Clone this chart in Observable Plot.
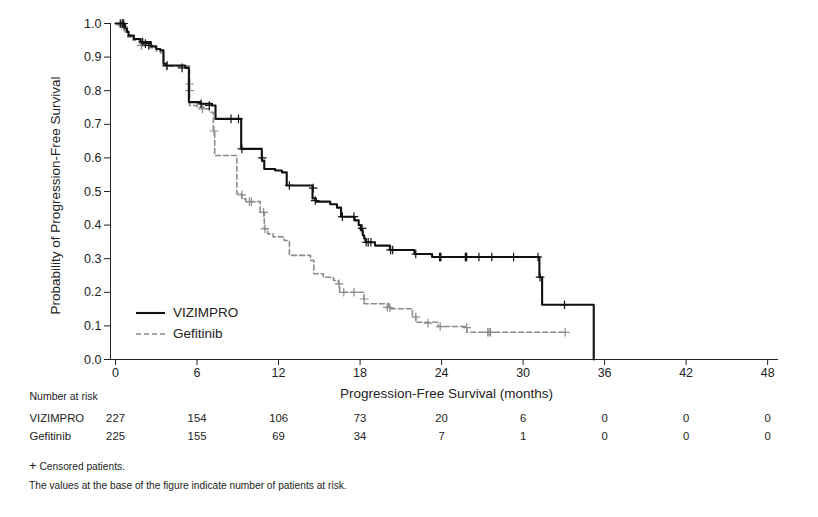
<!DOCTYPE html>
<html><head><meta charset="utf-8">
<script src="https://cdn.jsdelivr.net/npm/d3@7"></script>
<script src="https://cdn.jsdelivr.net/npm/@observablehq/plot@0.6"></script>
<style>
body{margin:0;background:#fff;font-family:"Liberation Sans",Arial,Helvetica,sans-serif;color:#222;}
#wrap{position:relative;width:818px;height:517px;overflow:hidden;}
#wrap svg{display:block;}
.legend{position:absolute;left:136px;top:302px;font-size:13.5px;color:#222;}
.legend .row{display:flex;align-items:center;height:21px;}
.legend svg{margin-right:8px;}
.foot{position:absolute;left:29px;font-size:10.2px;color:#222;}
</style></head><body><div id="wrap"></div>
<script>
// ---- data ----
const vizTime = [0, 0.7, 0.85, 0.96, 1.35, 1.85, 2.6, 3.0, 3.3, 3.53, 3.7, 5.13, 5.4, 6.26, 7.1, 7.36, 9.25, 10.77, 10.95, 11.75, 12.25, 12.6, 14.5, 14.75, 15.8, 16.3, 16.6, 17.6, 17.9, 18.05, 18.2, 18.3, 18.4, 19.1, 20.2, 22.0, 23.3, 31.2, 31.4, 35.2];
const vizSurv = [1, 0.985, 0.975, 0.964, 0.954, 0.945, 0.932, 0.924, 0.92, 0.88, 0.875, 0.868, 0.766, 0.761, 0.756, 0.716, 0.627, 0.592, 0.567, 0.5625, 0.557, 0.518, 0.479, 0.47, 0.462, 0.452, 0.425, 0.414, 0.40, 0.385, 0.37, 0.36, 0.349, 0.339, 0.326, 0.314, 0.305, 0.245, 0.163, 0];
const vizCensorTime = [0.35, 0.5, 0.6, 2.0, 2.2, 2.45, 3.8, 4.9, 6.3, 6.9, 8.5, 9.05, 9.3, 10.8, 12.8, 14.55, 14.7, 16.7, 17.55, 18.15, 18.45, 18.6, 18.8, 20.25, 20.4, 22.1, 23.85, 23.9, 23.95, 25.75, 25.8, 25.85, 26.75, 27.7, 29.3, 31.1, 31.25, 33.05];
const vizCensorSurv = [1, 1, 1, 0.945, 0.94, 0.935, 0.875, 0.868, 0.761, 0.756, 0.716, 0.716, 0.627, 0.6, 0.518, 0.51, 0.473, 0.425, 0.425, 0.39, 0.349, 0.349, 0.349, 0.326, 0.326, 0.314, 0.305, 0.305, 0.305, 0.305, 0.305, 0.305, 0.305, 0.305, 0.305, 0.305, 0.245, 0.163];

const gefTime = [0, 0.5, 0.7, 0.9, 1.3, 1.8, 2.5, 3.0, 3.3, 3.53, 5.45, 6.0, 6.5, 6.9, 7.2, 7.3, 8.93, 9.3, 9.6, 10.65, 10.95, 11.2, 11.6, 12.4, 12.8, 14.35, 14.6, 15.3, 16.05, 16.4, 16.5, 18.3, 20.1, 21.85, 22.1, 23.75, 25.85, 33.1];
const gefSurv = [1, 0.99, 0.975, 0.96, 0.95, 0.935, 0.928, 0.918, 0.912, 0.873, 0.756, 0.751, 0.746, 0.736, 0.68, 0.607, 0.493, 0.478, 0.470, 0.438, 0.389, 0.374, 0.365, 0.354, 0.31, 0.295, 0.255, 0.245, 0.235, 0.225, 0.2, 0.166, 0.151, 0.131, 0.111, 0.098, 0.081, 0.081];
const gefCensorTime = [0.45, 0.6, 1.9, 3.75, 5.45, 5.45, 6.4, 7.25, 9.3, 9.85, 10.0, 10.9, 11.0, 16.45, 16.8, 17.55, 18.3, 20.0, 20.2, 22.1, 23.0, 23.9, 25.85, 27.4, 27.5, 27.6, 33.1];
const gefCensorSurv = [0.995, 0.99, 0.935, 0.873, 0.82, 0.80, 0.746, 0.68, 0.49, 0.47, 0.47, 0.438, 0.389, 0.225, 0.2, 0.2, 0.18, 0.156, 0.154, 0.126, 0.108, 0.098, 0.095, 0.081, 0.081, 0.081, 0.081];

const riskMonths = [0, 6, 12, 18, 24, 30, 36, 42, 48];
const riskViz = [227, 154, 106, 73, 20, 6, 0, 0, 0];
const riskGef = [225, 155, 69, 34, 7, 1, 0, 0, 0];
const armNames = ["VIZIMPRO", "Gefitinib"];
const xTicks = [0, 6, 12, 18, 24, 30, 36, 42, 48];
const yTicks = [0, 0.1, 0.2, 0.3, 0.4, 0.5, 0.6, 0.7, 0.8, 0.9, 1.0];
const xLabel = "Progression-Free Survival (months)";
const yLabel = "Probability of Progression-Free Survival";

// ---- build tables ----
const xDomain = [-0.37, 48.8];
const viz = vizTime.map((t, i) => ({t, s: vizSurv[i]}));
const gef = gefTime.map((t, i) => ({t, s: gefSurv[i]}));
const vizC = vizCensorTime.map((t, i) => ({t, s: vizCensorSurv[i]}));
const gefC = gefCensorTime.map((t, i) => ({t, s: gefCensorSurv[i]}));
const risk = [];
riskMonths.forEach((m, i) => {
  risk.push({m, arm: armNames[0], n: riskViz[i]});
  risk.push({m, arm: armNames[1], n: riskGef[i]});
});

const plusSymbol = {
  draw(ctx, size) {
    const r = Math.sqrt(size / Math.PI);
    ctx.moveTo(-r, 0); ctx.lineTo(r, 0);
    ctx.moveTo(0, -r); ctx.lineTo(0, r);
  }
};

const BLACK = "#111";
const GRAY = "#8c8c8c";
const font = '"Liberation Sans", Arial, Helvetica, sans-serif';

const main = Plot.plot({
  width: 818, height: 405,
  marginLeft: 110, marginRight: 40, marginTop: 23, marginBottom: 46,
  style: {fontFamily: font, fontSize: "12.5px", color: "#222", background: "transparent", overflow: "visible"},
  x: {domain: xDomain},
  y: {domain: [0, 1]},
  marks: [
    Plot.axisY(yTicks, {tickFormat: d => d.toFixed(1), tickSize: 6, tickPadding: 3, label: null, stroke: "#222", fontSize: 12.5}),
    Plot.axisX(xTicks, {tickSize: 6, tickPadding: 3, label: null, stroke: "#222", fontSize: 12.5}),
    Plot.ruleY([0], {stroke: "#222"}),
    Plot.ruleX([xDomain[0]], {y1: 0, y2: 1, stroke: "#222"}),
    Plot.line(gef, {x: "t", y: "s", curve: "step-after", stroke: GRAY, strokeWidth: 1.6, strokeDasharray: "5,3"}),
    Plot.dot(gefC, {x: "t", y: "s", symbol: plusSymbol, r: 4.3, stroke: GRAY, strokeWidth: 1.2, fill: "none"}),
    Plot.line(viz, {x: "t", y: "s", curve: "step-after", stroke: BLACK, strokeWidth: 2.1}),
    Plot.dot(vizC, {x: "t", y: "s", symbol: plusSymbol, r: 4.3, stroke: BLACK, strokeWidth: 1.2, fill: "none"}),
    Plot.text([xLabel], {text: d => d, frameAnchor: "bottom", dy: 38, dx: 2, fontSize: 13.5, fill: "#222"}),
    Plot.text([yLabel], {text: d => d, frameAnchor: "left", textAnchor: "middle", rotate: -90, dx: -55, dy: 4, fontSize: 13.5, fill: "#222"}),
    Plot.text(["Number at risk"], {text: d => d, frameAnchor: "bottom-left", dx: -81, dy: 40, textAnchor: "start", fontSize: 10.5, fill: "#222"})
  ]
});

const riskPlot = Plot.plot({
  width: 818, height: 40,
  marginLeft: 110, marginRight: 40, marginTop: 3, marginBottom: 0,
  style: {fontFamily: font, fontSize: "11.3px", color: "#222", background: "transparent", overflow: "visible"},
  x: {domain: xDomain, axis: null},
  y: {domain: armNames, axis: null},
  marks: [
    Plot.text(risk, {x: "m", y: "arm", text: "n", fontSize: 11.3, fill: "#222"}),
    Plot.text(armNames, {y: d => d, text: d => d, frameAnchor: "left", dx: -81, textAnchor: "start", fontSize: 11.3, fill: "#222"})
  ]
});

const wrap = document.getElementById("wrap");
wrap.appendChild(main);
wrap.appendChild(riskPlot);

// legend
const legend = document.createElement("div");
legend.className = "legend";
legend.innerHTML =
  `<div class="row"><svg width="29" height="4"><line x1="0" x2="29" y1="2" y2="2" stroke="${BLACK}" stroke-width="2.1"/></svg>${armNames[0]}</div>` +
  `<div class="row"><svg width="29" height="4"><line x1="0" x2="29" y1="2" y2="2" stroke="${GRAY}" stroke-width="1.6" stroke-dasharray="5,3"/></svg>${armNames[1]}</div>`;
wrap.appendChild(legend);

const f1 = document.createElement("div");
f1.className = "foot"; f1.style.top = "461px";
f1.innerHTML = '<span style="font-size:13px;line-height:10px">+</span> Censored patients.';
wrap.appendChild(f1);
const f2 = document.createElement("div");
f2.className = "foot"; f2.style.top = "480px";
f2.textContent = "The values at the base of the figure indicate number of patients at risk.";
wrap.appendChild(f2);
</script></body></html>
